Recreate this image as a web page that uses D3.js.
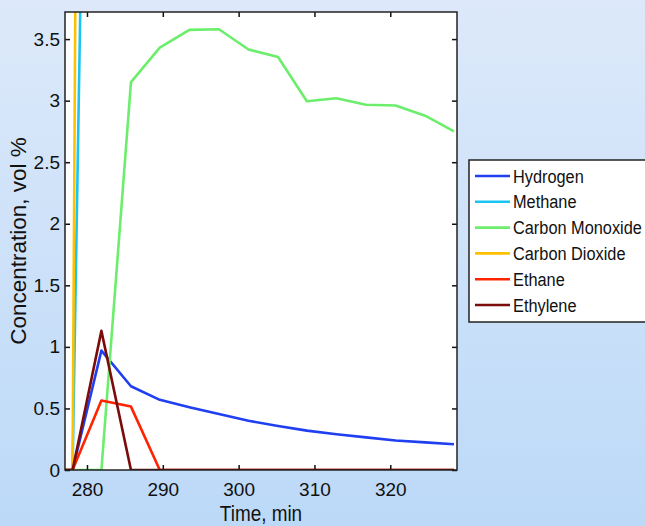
<!DOCTYPE html>
<html><head><meta charset="utf-8">
<script src="https://cdn.jsdelivr.net/npm/d3@7"></script>
<style>
html,body{margin:0;padding:0;overflow:hidden;}
svg{display:block;}
text{font-family:"Liberation Sans",Arial,sans-serif;fill:#111;}
</style></head>
<body>
<svg id="chart" width="645" height="526"></svg>
<script>
// ---- data ----
const times = [274.1, 278.1, 281.9, 285.8, 289.6, 293.5, 297.4, 301.3, 305.2, 309.0, 312.9, 316.8, 320.7, 324.6, 328.4];
const hydrogen = [0, 0, 0.97, 0.68, 0.57, 0.51, 0.455, 0.40, 0.358, 0.32, 0.29, 0.265, 0.24, 0.224, 0.209];
const methane = [0, 0, 14, 13, 12, 11, 10, 9.5, 9, 8.5, 8, 7.5, 7, 6.8, 6.5];
const carbonMonoxide = [0, 0, 0, 3.15, 3.43, 3.575, 3.58, 3.415, 3.355, 2.995, 3.02, 2.967, 2.96, 2.878, 2.75];
const carbonDioxide = [0, 0, 40, 38, 36, 34, 32, 30, 28, 27, 26, 25, 24, 23, 22];
const ethane = [0, 0, 0.565, 0.515, 0, 0, 0, 0, 0, 0, 0, 0, 0, 0, 0];
const ethylene = [0, 0, 1.13, 0, 0, 0, 0, 0, 0, 0, 0, 0, 0, 0, 0];
const seriesNames = ["Hydrogen", "Methane", "Carbon Monoxide", "Carbon Dioxide", "Ethane", "Ethylene"];
const seriesColors = ["#1f3ff0", "#1cc4f2", "#6cee6c", "#ffc000", "#ff2400", "#7a0c0c"];
const xTicks = [280, 290, 300, 310, 320];
const yTicks = [0, 0.5, 1, 1.5, 2, 2.5, 3, 3.5];
const xDomain = [277.1, 328.8];
const yDomain = [0, 3.72];

const series = [hydrogen, methane, carbonMonoxide, carbonDioxide, ethane, ethylene];

const svg = d3.select("#chart");
const W = 645, H = 526;
const plot = {left: 65, top: 12, right: 457, bottom: 470};

// background gradient
const defs = svg.append("defs");
const grad = defs.append("linearGradient").attr("id", "bg").attr("x1", 0).attr("y1", 0).attr("x2", 0).attr("y2", 1);
grad.append("stop").attr("offset", "0%").attr("stop-color", "#dde9fa");
grad.append("stop").attr("offset", "100%").attr("stop-color", "#bcd9f8");
svg.append("rect").attr("width", W).attr("height", H).attr("fill", "url(#bg)");

defs.append("clipPath").attr("id", "clip").append("rect")
  .attr("x", plot.left).attr("y", plot.top)
  .attr("width", plot.right - plot.left).attr("height", plot.bottom - plot.top);

const x = d3.scaleLinear().domain(xDomain).range([plot.left, plot.right]);
const y = d3.scaleLinear().domain(yDomain).range([plot.bottom, plot.top]);

// plot background
svg.append("rect").attr("x", plot.left).attr("y", plot.top)
  .attr("width", plot.right - plot.left).attr("height", plot.bottom - plot.top)
  .attr("fill", "#fff");

// lines
const line = d3.line().x((d, i) => x(times[i])).y(d => y(d));
const lg = svg.append("g").attr("clip-path", "url(#clip)");
series.forEach((s, k) => {
  lg.append("path").datum(s).attr("d", line)
    .attr("fill", "none").attr("stroke", seriesColors[k])
    .attr("stroke-width", 2.6).attr("stroke-linejoin", "round");
});

// axes (ticks inward, on all four sides)
const tl = 5;
const axB = d3.axisBottom(x).tickValues(xTicks).tickSize(-tl).tickPadding(13).tickFormat(d3.format("d"));
const axT = d3.axisTop(x).tickValues(xTicks).tickSize(-tl).tickFormat("");
const axL = d3.axisLeft(y).tickValues(yTicks).tickSize(-tl).tickPadding(5).tickFormat(d => d3.format("")(d));
const axR = d3.axisRight(y).tickValues(yTicks).tickSize(-tl).tickFormat("");

function styleAxis(g) {
  g.select(".domain").remove();
  g.selectAll(".tick line").attr("stroke", "#111").attr("stroke-width", 1.5);
  g.selectAll(".tick text").style("font-size", "19px").attr("fill", "#111")
    .style("font-family", "'Liberation Sans', Arial, sans-serif");
}
svg.append("g").attr("transform", `translate(0,${plot.bottom})`).call(axB).call(styleAxis);
svg.append("g").attr("transform", `translate(0,${plot.top})`).call(axT).call(styleAxis);
svg.append("g").attr("transform", `translate(${plot.left},0)`).call(axL).call(styleAxis);
svg.append("g").attr("transform", `translate(${plot.right},0)`).call(axR).call(styleAxis);

// box
svg.append("rect").attr("x", plot.left).attr("y", plot.top)
  .attr("width", plot.right - plot.left).attr("height", plot.bottom - plot.top)
  .attr("fill", "none").attr("stroke", "#222").attr("stroke-width", 1.5);

// axis titles
svg.append("text").attr("transform", `translate(261,521) scale(0.86,1)`)
  .attr("text-anchor", "middle").style("font-size", "22px").text("Time, min");
svg.append("text").attr("transform", `translate(26,241) rotate(-90)`)
  .attr("text-anchor", "middle").style("font-size", "22.5px").text("Concentration, vol %");

// legend
const leg = svg.append("g");
leg.append("rect").attr("x", 469).attr("y", 160).attr("width", 200).attr("height", 162)
  .attr("fill", "#fff").attr("stroke", "#222").attr("stroke-width", 1.5);
seriesNames.forEach((n, k) => {
  const yy = 176 + k * 25.8;
  leg.append("line").attr("x1", 475).attr("x2", 510).attr("y1", yy).attr("y2", yy)
    .attr("stroke", seriesColors[k]).attr("stroke-width", 2.6);
  leg.append("text").attr("transform", `translate(513,${yy}) scale(0.86,1)`)
    .attr("dy", "0.35em").style("font-size", "19px").text(n);
});
</script>
</body></html>
